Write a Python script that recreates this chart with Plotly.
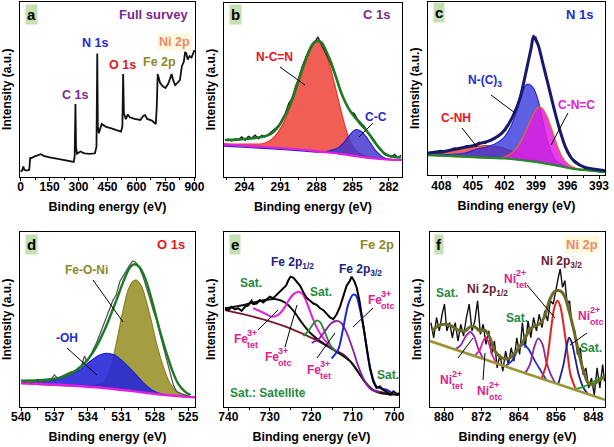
import plotly.graph_objects as go

W, H = 614, 447
FONT = "Liberation Sans, Arial, Helvetica, sans-serif"

# ---------------- (a) full survey ----------------
survey_be = [0, 8, 14, 20, 30, 45, 50, 55, 70, 90, 105, 120, 150, 200, 250, 275, 280, 284, 287, 292,
             310, 330, 360, 385, 393, 397, 400, 405, 420, 440, 470, 500, 520, 527, 531, 535, 545, 555,
             565, 590, 620, 635, 645, 655, 680, 700, 705, 710, 715, 722, 735, 750, 765, 775, 782, 790,
             800, 812, 825, 835, 845, 852, 858, 865, 875, 885, 893, 900]
survey_int = [2.9, 3.4, 5.7, 3.8, 3.4, 3.8, 11.0, 10.5, 11.4, 12.2, 12.8, 11.8, 10.9, 9.9, 8.8, 8.4, 11.4,
              41.5, 17.1, 13.0, 14.3, 13.3, 13.0, 13.3, 17.1, 70.5, 28.6, 24.8, 30.1, 28.6, 27.6, 26.7,
              25.7, 28.6, 58.7, 36.2, 32.8, 35.6, 33.9, 33.0, 32.4, 34.7, 35.2, 33.0, 32.0, 30.1, 40.0,
              58.7, 56.8, 53.7, 51.8, 50.7, 53.3, 56.8, 58.7, 55.2, 52.4, 53.7, 55.2, 63.2, 65.7, 71.4,
              70.5, 67.0, 69.0, 68.2, 70.9, 72.4]

# ---------------- (b) C 1s ----------------
b_raw_be = [295.62, 295.34, 295.06, 294.78, 294.50, 294.22, 293.94, 293.67, 293.39, 293.11, 292.83, 292.55,
            292.27, 291.99, 291.71, 291.43, 291.15, 290.87, 290.60, 290.32, 290.04, 289.76, 289.48, 289.20,
            288.92, 288.64, 288.36, 288.08, 287.89, 287.66, 287.39, 287.11, 286.83, 286.55, 286.27, 285.99,
            285.71, 285.43, 285.15, 284.87, 284.59, 284.32, 284.04, 283.76, 283.48, 283.20, 282.92, 282.64,
            282.36, 282.08, 281.80, 281.52, 281.25, 280.97]
b_raw_int = [20.8, 21.5, 20.4, 21.7, 21.2, 22.7, 20.8, 23.1, 22.1, 23.7, 21.7, 23.7, 22.7, 24.2, 25.6, 27.5,
             29.4, 33.3, 36.2, 41.9, 44.8, 51.5, 56.3, 63.1, 67.9, 72.7, 76.2, 78.1, 80.0, 76.9, 73.7, 69.2,
             65.0, 59.6, 54.4, 48.1, 43.8, 40.0, 37.1, 36.2, 32.7, 30.8, 28.8, 25.6, 23.1, 20.8, 17.3, 15.0,
             12.7, 11.9, 11.2, 12.7, 10.8, 12.1]
b_env_be = [295.6, 294.5, 293.5, 292.5, 291.8, 291.2, 290.6, 290.0, 289.5, 289.0, 288.6, 288.2, 287.9, 287.6,
            287.2, 286.8, 286.4, 286.0, 285.6, 285.2, 284.8, 284.4, 284.0, 283.6, 283.2, 282.8, 282.4, 282.0,
            281.5, 281.0]
b_env_int = [21.0, 21.2, 21.8, 22.8, 24.5, 28.5, 35.5, 45.0, 55.5, 65.5, 72.5, 77.0, 78.0, 77.0, 72.0, 65.5,
             57.5, 49.0, 42.5, 37.5, 34.0, 30.5, 27.5, 24.0, 20.0, 16.5, 13.5, 12.0, 11.3, 11.0]
b_base_be = [295.7, 292.0, 289.0, 287.6, 286.0, 285.0, 284.0, 283.0, 282.0, 280.9]
b_base_int = [18.3, 16.8, 15.3, 14.2, 13.0, 12.0, 11.0, 10.2, 9.7, 9.5]
b_ncn_be = [295.7, 293.5, 292.5, 291.8, 291.2, 290.6, 290.0, 289.5, 289.0, 288.6, 288.2, 287.9, 287.6, 287.2,
            286.8, 286.4, 286.0, 285.6, 285.2, 284.8, 284.3, 283.8]
b_ncn_int = [18.8, 18.6, 18.8, 21.0, 25.5, 33.0, 43.5, 54.0, 64.0, 71.5, 76.5, 77.5, 76.0, 70.0, 61.0, 50.0,
             38.5, 28.0, 20.0, 15.5, 12.8, 11.5]
b_cc_be = [295.7, 292.0, 289.0, 287.6, 286.8, 286.2, 285.8, 285.4, 285.0, 284.7, 284.3, 283.9, 283.5, 283.1,
           282.7, 282.3, 281.8, 280.9]
b_cc_int = [17.5, 16.0, 14.6, 14.0, 15.0, 16.5, 19.0, 22.5, 25.8, 27.0, 26.0, 23.0, 19.0, 15.0, 12.3, 10.5,
            9.8, 9.3]

# ---------------- (c) N 1s ----------------
c_env_be = [409.27, 408.57, 407.94, 407.30, 406.35, 405.41, 404.77, 404.14, 403.51, 402.87, 402.24, 401.61,
            400.97, 400.50, 400.03, 399.71, 399.46, 399.23, 399.01, 398.76, 398.44, 398.13, 397.65, 397.18,
            396.70, 396.23, 395.75, 395.28, 394.33, 393.38, 392.43]
c_env_int = [12.7, 13.1, 13.3, 14.1, 15.3, 16.4, 17.2, 18.5, 19.5, 21.4, 24.1, 29.2, 36.9, 44.6, 57.0, 66.0,
             73.0, 80.0, 77.8, 74.5, 66.8, 59.1, 47.5, 35.9, 25.3, 16.6, 10.8, 7.5, 4.4, 3.3, 2.5]
c_raw_be = [409.2, 408.6, 408.0, 407.4, 406.8, 406.2, 405.6, 405.0, 404.4, 403.8, 403.2, 402.6, 402.0, 401.4,
            400.8, 400.2, 399.6, 399.3, 399.0, 398.6, 398.0, 397.4, 396.8, 396.2, 395.6, 395.0, 394.4, 393.8,
            393.2, 392.6]
c_raw_int = [12.5, 13.6, 14.2, 13.5, 15.6, 15.0, 16.9, 16.5, 18.9, 18.2, 20.6, 22.0, 26.5, 30.8, 40.0, 52.0,
             69.0, 78.5, 79.5, 71.0, 56.0, 40.5, 27.0, 17.0, 9.8, 7.0, 4.0, 3.8, 2.6, 3.2]
c_base_be = [409.27, 405.09, 401.92, 399.39, 397.49, 395.59, 393.70, 392.43]
c_base_int = [11.4, 10.4, 9.5, 7.9, 6.0, 3.7, 2.5, 1.7]
c_cnh_be = [409.27, 407.62, 406.04, 404.77, 403.66, 402.56, 401.61, 400.66, 399.71, 398.76, 397.5, 395.6, 392.43]
c_cnh_int = [12.2, 13.7, 15.3, 16.4, 17.0, 16.2, 14.3, 12.2, 10.2, 8.6, 6.1, 3.8, 1.8]
c_nc3_be = [409.27, 405.72, 404.77, 403.82, 402.87, 402.08, 401.45, 400.82, 400.34, 399.96, 399.65, 399.23,
            398.82, 398.44, 398.06, 397.65, 397.18, 396.54, 395.6, 392.43]
c_nc3_int = [11.5, 12.7, 14.7, 16.0, 18.0, 21.4, 27.2, 36.9, 46.5, 51.9, 52.3, 50.0, 43.6, 34.0, 23.4, 14.7,
             8.9, 6.0, 3.8, 1.7]
c_cnc_be = [409.27, 402.56, 401.61, 400.82, 400.18, 399.55, 399.08, 398.70, 398.38, 397.97, 397.49, 397.02,
            396.54, 395.91, 395.12, 394.33, 392.43]
c_cnc_int = [11.4, 9.8, 11.4, 15.6, 22.4, 31.1, 36.9, 39.2, 38.4, 34.0, 26.3, 17.6, 10.8, 6.0, 3.7, 2.9, 1.7]

# ---------------- (d) O 1s ----------------
d_raw_be = [540.0, 539.7, 539.4, 539.1, 538.8, 538.5, 538.2, 537.9, 537.6, 537.3, 537.0, 536.7, 536.4, 536.1,
            535.8, 535.5, 535.2, 534.9, 534.6, 534.3, 534.1, 533.85, 533.55, 533.25, 532.95, 532.65, 532.35,
            532.05, 531.75, 531.45, 531.15, 530.85, 530.55, 530.25, 530.0, 529.8, 529.6, 529.35, 529.05,
            528.75, 528.45, 528.15, 527.85, 527.55, 527.25, 526.95, 526.65, 526.35, 526.05, 525.6, 525.0]
d_raw_int = [15.2, 13.9, 14.9, 13.3, 14.5, 15.6, 14.1, 15.2, 14.3, 15.6, 18.1, 16.0, 17.1, 18.1, 18.7, 20.0,
             19.4, 21.9, 22.9, 29.0, 25.7, 28.2, 32.4, 36.2, 41.0, 46.1, 50.5, 55.6, 61.0, 64.0, 71.5, 74.7,
             78.1, 81.0, 83.4, 82.9, 81.9, 79.0, 74.3, 68.6, 61.9, 55.2, 49.5, 41.9, 34.3, 26.7, 19.0, 12.4,
             8.6, 7.2, 6.1]
d_env_be = [540.0, 538.0, 536.5, 535.5, 534.5, 533.5, 532.5, 531.5, 530.8, 530.2, 529.8, 529.4, 528.9, 528.4,
            527.9, 527.4, 526.9, 526.4, 525.9, 525.3, 524.8]
d_env_int = [14.8, 15.2, 16.5, 19.0, 23.5, 31.5, 44.0, 60.0, 72.0, 80.0, 81.5, 80.0, 74.0, 64.0, 52.0, 40.0,
             29.5, 20.0, 13.0, 8.5, 6.5]
d_base_be = [540.0, 536.0, 533.0, 530.0, 527.5, 525.0, 524.4]
d_base_int = [13.3, 12.2, 10.9, 8.8, 6.9, 5.5, 5.3]
d_feoni_be = [540.0, 534.0, 532.65, 532.2, 531.75, 531.3, 530.85, 530.4, 529.95, 529.65, 529.2, 528.75, 528.3,
              527.85, 527.25, 526.65, 526.05, 525.15, 524.5]
d_feoni_int = [13.3, 11.8, 13.7, 18.1, 27.6, 41.0, 55.2, 66.7, 71.8, 72.4, 69.0, 60.0, 48.6, 36.2, 22.9, 13.3,
               8.6, 6.3, 5.3]
d_oh_be = [540.0, 537.45, 535.95, 534.75, 533.85, 532.95, 532.35, 531.6, 530.85, 529.95, 529.05, 528.15,
           527.25, 526.0, 524.5]
d_oh_int = [13.7, 14.9, 17.1, 21.0, 25.7, 29.5, 30.5, 29.5, 25.7, 20.0, 13.7, 9.0, 6.9, 6.0, 5.3]

# ---------------- (e) Fe 2p ----------------
e_raw_be = [740.8, 740.0, 739.2, 738.4, 737.6, 736.8, 736.0, 735.2, 734.4, 734.0, 733.2, 732.4, 731.6, 730.8,
            730.0, 729.2, 728.4, 727.6, 726.8, 726.1, 725.5, 725.0, 724.3, 723.5, 722.7, 721.9, 721.1, 720.3,
            719.5, 718.7, 717.9, 717.1, 716.3, 715.5, 714.7, 713.9, 713.1, 712.3, 711.5, 710.7, 710.3, 709.7,
            709.1, 708.4, 707.9, 707.3, 706.7, 705.9, 705.1, 704.3, 703.5, 702.7, 701.8, 701.0, 700.2, 699.4,
            698.9]
e_raw_int = [56.3, 55.2, 57.1, 55.6, 56.3, 54.8, 57.1, 57.9, 60.6, 58.7, 59.0, 61.0, 59.6, 61.0, 62.9, 62.1,
             64.0, 65.4, 67.3, 69.2, 72.5, 74.4, 73.7, 71.2, 69.2, 65.4, 62.1, 60.6, 59.0, 58.3, 56.3, 55.2,
             52.9, 51.0, 50.0, 52.9, 57.1, 63.5, 69.2, 72.1, 74.4, 72.1, 68.3, 60.6, 52.9, 43.3, 33.7, 22.1,
             14.4, 10.6, 11.5, 9.6, 8.3, 6.7, 8.7, 7.1, 7.7]
e_base_be = [740.8, 734.8, 730.8, 726.7, 722.7, 718.7, 714.7, 712.3, 709.9, 707.5, 705.1, 701.8, 698.9]
e_base_int = [55.2, 51.9, 49.4, 46.2, 42.3, 37.9, 32.7, 29.8, 24.0, 15.4, 9.6, 7.7, 6.7]
e_tet1_be = [740.8, 737.2, 734.0, 730.8, 728.4, 726.3, 724.3, 722.3, 720.3, 717.9, 715.5, 713.1, 710.7, 708.3,
             705.9, 703.5, 698.9]
e_tet1_int = [56.3, 57.7, 59.6, 61.2, 61.5, 59.6, 54.8, 48.1, 42.3, 37.5, 33.7, 30.2, 26.0, 18.3, 10.6, 7.7, 6.7]
e_otc1_be = [734.0, 731.6, 729.6, 728.0, 726.7, 725.5, 724.3, 723.1, 722.1, 721.1, 719.9, 718.7, 717.5, 715.9,
             713.9]
e_otc1_int = [56.3, 53.8, 51.5, 52.5, 55.8, 60.6, 64.4, 65.8, 64.4, 59.6, 51.9, 45.2, 40.4, 35.6, 31.7]
e_sat1_be = [721.9, 720.7, 719.5, 718.6, 717.8, 716.7, 715.5, 714.3]
e_sat1_int = [40.4, 43.3, 47.5, 49.4, 48.1, 42.3, 35.6, 31.7]
e_tet2_be = [719.9, 718.3, 716.7, 715.3, 714.1, 712.9, 711.5, 710.0, 708.7, 707.1, 705.5, 703.5]
e_tet2_int = [36.5, 38.5, 43.3, 47.5, 49.0, 48.1, 42.3, 32.7, 23.1, 14.4, 9.6, 8.3]
e_otc2_be = [715.1, 713.5, 712.3, 711.1, 710.0, 709.2, 708.3, 707.3, 706.3, 705.2, 704.3, 703.1, 701.8, 700.6]
e_otc2_int = [27.5, 32.7, 45.2, 58.7, 64.0, 63.5, 55.8, 43.3, 27.9, 16.3, 11.5, 10.2, 9.6, 7.7]

# ---------------- (f) Ni 2p ----------------
f_raw_be = [882.8, 882.2, 881.6, 881.0, 880.4, 879.9, 879.4, 878.8, 878.2, 877.6, 877.0, 876.4, 875.8, 875.2,
            874.6, 874.0, 873.4, 872.8, 872.2, 871.6, 871.0, 870.4, 869.8, 869.2, 868.6, 868.0, 867.4, 866.8,
            866.2, 865.6, 865.0, 864.4, 863.8, 863.2, 862.6, 862.0, 861.4, 860.8, 860.2, 859.6, 859.0, 858.4,
            857.8, 857.2, 856.6, 856.0, 855.5, 855.1, 854.6, 854.1, 853.6, 853.1, 852.6, 852.0, 851.4, 850.8,
            850.2, 849.6, 849.0, 848.4, 847.8, 847.2, 846.6, 846.0, 845.6]
f_raw_int = [48.1, 39.4, 51.0, 43.3, 52.9, 58.7, 43.3, 48.1, 39.4, 48.1, 37.5, 47.1, 40.4, 51.0, 58.7, 43.3,
             49.0, 60.6, 41.3, 47.1, 35.6, 43.3, 29.8, 37.5, 22.1, 29.8, 20.2, 31.7, 24.0, 33.7, 26.0, 39.4,
             29.8, 48.1, 33.7, 49.0, 39.4, 51.0, 43.3, 52.9, 45.2, 54.8, 49.0, 60.6, 58.7, 68.3, 74.0, 78.8,
             68.3, 72.1, 58.7, 60.6, 47.1, 43.3, 29.8, 33.7, 18.3, 22.1, 10.6, 16.3, 6.7, 22.1, 10.6, 24.0, 14.4]
f_env_be = [882.6, 881.2, 879.8, 878.4, 876.9, 875.5, 874.4, 873.4, 872.3, 871.2, 870.1, 869.1, 867.6, 866.2,
            864.8, 863.7, 862.6, 861.6, 860.5, 859.4, 858.4, 857.3, 856.2, 855.1, 854.2, 853.4, 852.3, 851.2,
            850.1, 849.1, 848.0, 846.9, 845.5]
f_env_int = [43.3, 46.2, 47.1, 46.2, 43.7, 43.3, 45.6, 45.6, 43.3, 43.7, 39.0, 31.7, 27.9, 27.3, 30.8, 34.6,
             39.4, 44.2, 46.2, 47.5, 51.9, 61.5, 66.0, 66.3, 63.5, 56.7, 45.2, 31.7, 20.2, 13.5, 12.5, 14.8, 17.3]
f_base_be = [883.0, 845.5]
f_base_int = [37.5, 3.8]
f_tet1_be = [877.6, 876.4, 875.3, 874.4, 873.6, 872.6, 871.6]
f_tet1_int = [32.7, 35.2, 40.4, 42.7, 40.4, 32.7, 27.4]
f_otc1_be = [873.4, 872.3, 871.6, 871.0, 870.4, 869.7, 868.8]
f_otc1_int = [29.0, 32.7, 37.5, 39.8, 36.5, 29.8, 24.9]
f_sat1_be = [866.9, 865.5, 864.1, 863.0, 862.0, 860.5, 859.1, 858.1]
f_sat1_int = [23.1, 26.0, 32.7, 35.6, 33.3, 26.0, 19.8, 15.3]
f_sat2_be = [862.6, 861.6, 860.6, 859.8, 858.9, 858.1, 857.1, 856.2]
f_sat2_int = [19.2, 24.0, 34.6, 39.0, 35.6, 26.0, 18.3, 13.6]
f_tet2_be = [859.1, 858.1, 857.1, 856.4, 855.7, 855.1, 854.4, 853.6, 852.9, 851.9]
f_tet2_int = [16.0, 24.0, 43.3, 56.3, 60.6, 57.7, 47.1, 31.7, 18.3, 10.6]
f_otc2_be = [855.5, 854.4, 853.7, 853.2, 852.6, 851.9, 851.1, 850.1, 849.2]
f_otc2_int = [13.0, 24.0, 34.6, 39.4, 36.5, 27.9, 17.9, 10.6, 7.3]
f_sat3_be = [851.9, 850.5, 849.1, 847.7, 846.2, 845.5]
f_sat3_int = [10.0, 11.0, 12.5, 14.8, 16.7, 17.7]

# ---------------- layout helpers ----------------
def px(x):
    return x / W


def py(y):
    return 1 - y / H


panels = {
    1: dict(box=(20, 2, 195, 176.5), xr=[-3, 903], dtick=150, minor=75),
    2: dict(box=(224, 2.5, 402, 176.5), xr=[295.7, 280.9], dtick=3, minor=1.5),
    3: dict(box=(428, 1.5, 605, 175), xr=[409.27, 392.43], dtick=3, minor=1.5),
    4: dict(box=(20, 232, 195, 406.5), xr=[540.09, 524.4], dtick=3, minor=1.5),
    5: dict(box=(224, 232, 399, 406.5), xr=[741.04, 698.88], dtick=10, minor=5),
    6: dict(box=(430, 232, 605, 406.5), xr=[883.0, 845.5], dtick=8, minor=4),
}

fig = go.Figure()


def line(i, xs, ys, color, width=1.5, shape="spline", smooth=0.8):
    fig.add_trace(go.Scatter(x=xs, y=ys, mode="lines", xaxis=f"x{i}", yaxis=f"y{i}",
                             line=dict(color=color, width=width, shape=shape,
                                       smoothing=smooth if shape == "spline" else None),
                             hoverinfo="skip", showlegend=False))


def filled(i, bx, by, xs, ys, color, fillcolor, width=1.2):
    fig.add_trace(go.Scatter(x=bx, y=by, mode="lines", xaxis=f"x{i}", yaxis=f"y{i}",
                             line=dict(width=0, shape="spline", smoothing=0.8),
                             hoverinfo="skip", showlegend=False))
    fig.add_trace(go.Scatter(x=xs, y=ys, mode="lines", xaxis=f"x{i}", yaxis=f"y{i}",
                             fill="tonexty", fillcolor=fillcolor,
                             line=dict(color=color, width=width, shape="spline", smoothing=0.8),
                             hoverinfo="skip", showlegend=False))


# (a)
line(1, survey_be, survey_int, "#111111", 1.8, "linear")
# (b)
filled(2, b_base_be, b_base_int, b_ncn_be, b_ncn_int, "#e8352b", "rgba(240,80,70,0.92)")
filled(2, b_base_be, b_base_int, b_cc_be, b_cc_int, "#2a20c8", "rgba(60,50,205,0.82)")
line(2, b_base_be, b_base_int, "#e21ee0", 2.2)
line(2, b_raw_be, b_raw_int, "#111111", 1.4, "linear")
line(2, b_env_be, b_env_int, "#1d7a22", 2.6)
# (c)
filled(3, c_base_be, c_base_int, c_cnh_be, c_cnh_int, "#e8352b", "rgba(238,70,60,0.85)")
filled(3, c_base_be, c_base_int, c_nc3_be, c_nc3_int, "#2a2ad0", "rgba(50,50,220,0.78)")
filled(3, c_base_be, c_base_int, c_cnc_be, c_cnc_int, "#e86a20", "rgba(225,30,225,0.85)")
line(3, c_base_be, c_base_int, "#1f8a2a", 2.2)
line(3, c_raw_be, c_raw_int, "#111111", 1.2, "linear")
line(3, c_env_be, c_env_int, "#17196b", 3.0)
# (d)
filled(4, d_base_be, d_base_int, d_feoni_be, d_feoni_int, "#8a8426", "rgba(160,152,55,0.95)")
filled(4, d_base_be, d_base_int, d_oh_be, d_oh_int, "#2222cc", "rgba(40,40,215,0.9)")
line(4, d_base_be, d_base_int, "#e21ee0", 2.4)
line(4, d_raw_be, d_raw_int, "#555555", 1.3, "linear")
line(4, d_env_be, d_env_int, "#1d7a22", 2.4)
# (e)
line(5, e_base_be, e_base_int, "#7a1a2e", 1.8)
line(5, e_tet1_be, e_tet1_int, "#111111", 2.0)
line(5, e_otc1_be, e_otc1_int, "#e41ee0", 2.0)
line(5, e_sat1_be, e_sat1_int, "#1f8a2a", 1.8)
line(5, e_tet2_be, e_tet2_int, "#8a1ea8", 1.8)
line(5, e_otc2_be, e_otc2_int, "#1a28d8", 2.0)
line(5, e_raw_be, e_raw_int, "#000000", 2.0, "linear")
# (f)
line(6, f_raw_be, f_raw_int, "#111111", 1.4, "linear")
line(6, f_tet1_be, f_tet1_int, "#9a24b0", 1.8)
line(6, f_otc1_be, f_otc1_int, "#e21e9a", 1.8)
line(6, f_sat1_be, f_sat1_int, "#2030d0", 1.8)
line(6, f_sat2_be, f_sat2_int, "#8a2aa0", 1.8)
line(6, f_tet2_be, f_tet2_int, "#e81e1e", 2.0)
line(6, f_otc2_be, f_otc2_int, "#1a2090", 1.8)
line(6, f_sat3_be, f_sat3_int, "#1f9a2a", 1.8)
line(6, f_base_be, f_base_int, "#9a9430", 2.6, "linear")
line(6, f_env_be, f_env_int, "#6d6a22", 3.0)

layout = dict(width=W, height=H, margin=dict(l=0, r=0, t=0, b=0, autoexpand=False), paper_bgcolor="white",
              plot_bgcolor="white", showlegend=False, font=dict(family=FONT, color="black"))
for i, p in panels.items():
    x0, y0, x1, y1 = p["box"]
    layout[f"xaxis{i}"] = dict(domain=[px(x0), px(x1)], range=p["xr"], anchor=f"y{i}", automargin=False,
                               showline=True, mirror=True, linecolor="black", linewidth=1.2,
                               ticks="outside", ticklen=3, tickwidth=1.2, tickcolor="black",
                               ticklabelstandoff=-4,
                               dtick=p["dtick"], showgrid=False, zeroline=False,
                               minor=dict(ticks="outside", ticklen=2, dtick=p["minor"], tickcolor="black"),
                               tickfont=dict(size=12, family=FONT, weight="bold", color="black"),
                               title=dict(text="Binding energy (eV)", standoff=9,
                                          font=dict(size=12.5, family=FONT, weight="bold", color="black")))
    layout[f"yaxis{i}"] = dict(domain=[py(y1), py(y0)], range=[0, 100], anchor=f"x{i}", automargin=False,
                               showline=True, mirror=True, linecolor="black", linewidth=1.2,
                               ticks="", showticklabels=False, showgrid=False, zeroline=False,
                               title=dict(text="Intensity (a.u.)", standoff=4,
                                          font=dict(size=12, family=FONT, weight="bold", color="black")))
fig.update_layout(**layout)

ann = []


def text(t, x, y, color, size=12, xanchor="center", bg=None):
    d = dict(text=t, x=px(x), y=py(y), xref="paper", yref="paper", showarrow=False,
             xanchor=xanchor, yanchor="middle",
             font=dict(size=size, family=FONT, weight="bold", color=color))
    if bg:
        d["bgcolor"] = bg
    ann.append(d)


def stacked(base, sup, sub, xl, y, color, bw):
    text(base, xl, y, color, 12, "left")
    text(sup, xl + bw, y - 6, color, 9, "left")
    text(sub, xl + bw, y + 6, color, 9, "left")


shapes = []


def leader(x0, y0, x1, y1):
    shapes.append(dict(type="line", xref="paper", yref="paper", x0=px(x0), y0=py(y0),
                       x1=px(x1), y1=py(y1), line=dict(color="black", width=1)))


# panel letters
for letter, (x, y) in {"a": (31, 14), "b": (235, 14), "c": (439, 13),
                       "d": (31, 245), "e": (235, 245), "f": (439, 245)}.items():
    ann.append(dict(text=letter, x=px(x), y=py(y), xref="paper", yref="paper", showarrow=False,
                    xanchor="center", yanchor="middle", bgcolor="#c6e0b4", borderpad=1,
                    font=dict(size=15, family=FONT, weight="bold", color="black")))

PURPLE, BLUE, RED, OLIVE, SALMON = "#7b2a8e", "#1f2bd2", "#e8141b", "#8c8a25", "#f0866c"
GREEN, NAVY, MAG, MAROON = "#1e8a3c", "#1a237e", "#e0208c", "#6b1a2e"

# (a)
text("Full survey", 190, 15, PURPLE, 13, "right")
text("C 1s", 75, 95, PURPLE, 12.5)
text("N 1s", 95, 43, BLUE, 12.5)
text("O 1s", 122, 65, RED, 12.5)
text("Fe 2p", 159, 62, OLIVE, 12.5)
text("Ni 2p", 174, 42, SALMON, 12.5, bg="rgba(255,246,205,0.7)")
# (b)
text("C 1s", 392, 15, PURPLE, 13, "right")
text("N-C=N", 274, 57, RED, 12)
text("C-C", 376, 117, BLUE, 12)
leader(280, 67, 305, 85)
leader(373, 123, 359, 137)
# (c)
text("N 1s", 595, 15, BLUE, 13, "right")
text("N-(C)<sub>3</sub>", 485, 81, BLUE, 12)
text("C-NH", 456, 118, RED, 12)
text("C-N=C", 576, 105, "#e020d8", 12)
leader(491, 95, 515, 113)
leader(462, 128, 477, 147)
leader(568, 113, 551, 145)
# (d)
text("O 1s", 187, 245, RED, 13, "right")
text("Fe-O-Ni", 86, 270, OLIVE, 12)
text("-OH", 67, 338, BLUE, 12)
leader(93, 280, 123, 322)
leader(67, 348, 97, 375)
# (e)
text("Fe 2p", 396, 245, OLIVE, 13, "right")
text("Fe 2p<sub>1/2</sub>", 292, 263, NAVY, 12)
text("Fe 2p<sub>3/2</sub>", 360, 270, NAVY, 12)
text("Sat.", 251, 283, GREEN, 12)
text("Sat.", 321, 292, GREEN, 12)
text("Sat.", 388, 375, GREEN, 12)
text("Sat.: Satellite", 228, 393, GREEN, 12, "left")
stacked("Fe", "3+", "otc", 366, 300, MAG, 13)
stacked("Fe", "3+", "tet", 232, 339, MAG, 13)
stacked("Fe", "3+", "otc", 263, 357, MAG, 13)
stacked("Fe", "3+", "tet", 305, 370, MAG, 13)
leader(258, 330, 278, 310)
leader(285, 347, 297, 305)
leader(317, 358, 335, 333)
leader(353, 327, 373, 308)
# (f)
text("Ni 2p", 600, 245, SALMON, 13, "right", bg="rgba(255,246,205,0.7)")
text("Ni 2p<sub>3/2</sub>", 561, 262, MAROON, 12)
text("Ni 2p<sub>1/2</sub>", 487, 290, MAROON, 12)
text("Sat.", 447, 293, GREEN, 12)
text("Sat.", 517, 318, GREEN, 12)
text("Sat.", 591, 348, GREEN, 12)
stacked("Ni", "2+", "tet", 502, 279, MAG, 12)
stacked("Ni", "2+", "otc", 576, 316, MAG, 12)
stacked("Ni", "2+", "tet", 438, 380, MAG, 12)
stacked("Ni", "2+", "otc", 475, 391, MAG, 12)
leader(527, 285, 555, 318)
leader(587, 333, 570, 345)
leader(458, 358, 473, 338)
leader(483, 380, 485, 353)

fig.update_layout(annotations=ann, shapes=shapes)
fig.write_html("out.html", config={"displayModeBar": False},
               post_script="document.body.style.margin='0';document.body.style.overflow='hidden';")
